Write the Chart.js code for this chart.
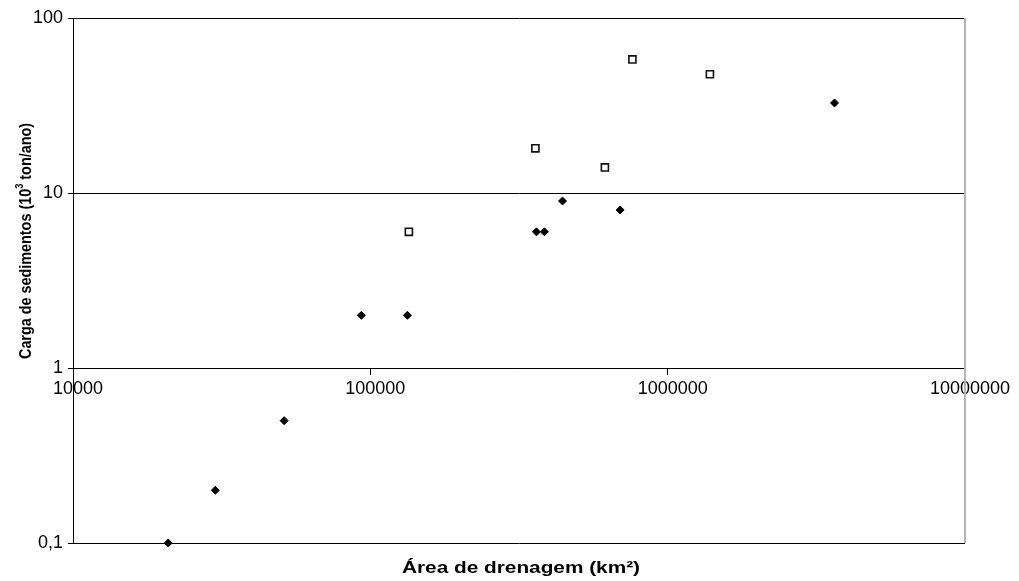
<!DOCTYPE html>
<html>
<head>
<meta charset="utf-8">
<script src="https://cdn.jsdelivr.net/npm/chart.js@4.4.0/dist/chart.umd.min.js"></script>
<style>
  html, body { margin: 0; padding: 0; background: #fff; }
  #wrap { width: 1019px; height: 581px; }
</style>
</head>
<body>
<div id="wrap"><canvas id="chart"></canvas></div>
<script>
// values (area in km², load in 10^3 ton/ano)
const filledArea = [20900, 30100, 51300, 93300, 133300, 362000, 385000, 443000, 692000, 3640000];
const filledLoad = [0.1, 0.2, 0.5, 2, 2, 6, 6, 9, 8, 32.7];
const openArea = [134800, 359000, 615000, 761000, 1387000];
const openLoad = [6, 18, 14, 58, 47.7];

const xTicks = [10000, 100000, 1000000, 10000000];
const yTicks = [0.1, 1, 10, 100];

const xTitle = "Área de drenagem (km²)";
const yTitleMain = "Carga de sedimentos (10";
const yTitleSup = "3";
const yTitleEnd = " ton/ano)";

const FONT = "'Liberation Sans', Arial, sans-serif";

function toPoints(xs, ys) {
  return xs.map((x, i) => ({ x: x, y: ys[i] }));
}

// titles are drawn by hand: the original text is squeezed / stretched
const titlesPlugin = {
  id: "titles",
  afterDraw(chart) {
    const ctx = chart.ctx;
    const area = chart.chartArea;

    // right border of the plot area (grey)
    ctx.save();
    ctx.strokeStyle = "#b4b4b4";
    ctx.lineWidth = 2;
    ctx.beginPath();
    ctx.moveTo(area.right, area.top);
    ctx.lineTo(area.right, area.bottom);
    ctx.stroke();
    ctx.restore();

    // x title
    ctx.save();
    ctx.font = "bold 16px " + FONT;
    ctx.fillStyle = "#000";
    ctx.textBaseline = "alphabetic";
    const wx = ctx.measureText(xTitle).width;
    const targetX = 238;
    ctx.translate(521, 573);
    ctx.scale(targetX / wx, 1);
    ctx.textAlign = "center";
    ctx.fillText(xTitle, 0, 0);
    ctx.restore();

    // y title, rotated, with superscript 3
    ctx.save();
    const mainFont = "bold 17px " + FONT;
    const supFont = "bold 11px " + FONT;
    ctx.font = mainFont;
    const w1 = ctx.measureText(yTitleMain).width;
    const w3 = ctx.measureText(yTitleEnd).width;
    ctx.font = supFont;
    const w2 = ctx.measureText(yTitleSup).width;
    const total = w1 + w2 + w3;
    const targetY = 236;
    ctx.translate(31, 241);
    ctx.rotate(-Math.PI / 2);
    ctx.scale(targetY / total, 1);
    ctx.fillStyle = "#000";
    ctx.textAlign = "left";
    ctx.textBaseline = "alphabetic";
    let pos = -total / 2;
    ctx.font = mainFont;
    ctx.fillText(yTitleMain, pos, 0);
    pos += w1;
    ctx.font = supFont;
    ctx.fillText(yTitleSup, pos, -8);
    pos += w2;
    ctx.font = mainFont;
    ctx.fillText(yTitleEnd, pos, 0);
    ctx.restore();
  },
};

const ctx = document.getElementById("chart").getContext("2d");

new Chart(ctx, {
  type: "scatter",
  data: {
    datasets: [
      {
        label: "filled",
        data: toPoints(filledArea, filledLoad),
        pointStyle: "rectRot",
        pointRadius: 4,
        pointHoverRadius: 4,
        backgroundColor: "#000",
        borderColor: "#000",
        borderWidth: 1,
        clip: false,
      },
      {
        label: "open",
        data: toPoints(openArea, openLoad),
        pointStyle: "rect",
        pointRadius: 5,
        pointHoverRadius: 5,
        backgroundColor: "#fff",
        borderColor: "#111",
        borderWidth: 1.6,
        clip: false,
      },
    ],
  },
  options: {
    animation: false,
    responsive: true,
    maintainAspectRatio: false,
    events: [],
    layout: {
      padding: { left: 0, right: 54, top: 18, bottom: 38 },
    },
    plugins: {
      legend: { display: false },
      tooltip: { enabled: false },
    },
    scales: {
      x: {
        type: "logarithmic",
        min: 10000,
        max: 10000000,
        position: { y: 1 },
        afterBuildTicks(scale) {
          scale.ticks = xTicks.map((v) => ({ value: v }));
        },
        ticks: {
          autoSkip: false,
          maxRotation: 0,
          color: "#000",
          padding: 4,
          labelOffset: 5,
          font: { family: FONT, size: 18 },
          callback: (value) => String(value),
        },
        grid: {
          drawOnChartArea: false,
          drawTicks: true,
          tickLength: 6,
          color: "#000",
          lineWidth: 1,
        },
        border: { display: true, color: "#000", width: 1 },
      },
      y: {
        type: "logarithmic",
        min: 0.1,
        max: 100,
        position: "left",
        afterFit(scale) {
          scale.width = 73;
        },
        afterBuildTicks(scale) {
          scale.ticks = yTicks.map((v) => ({ value: v }));
        },
        ticks: {
          color: "#000",
          padding: 5,
          font: { family: FONT, size: 18 },
          callback: (value) => String(value).replace(".", ","),
        },
        grid: {
          color: "#000",
          lineWidth: 1,
          drawTicks: true,
          tickLength: 5,
        },
        border: { display: true, color: "#000", width: 1 },
      },
    },
  },
  plugins: [titlesPlugin],
});
</script>
</body>
</html>
